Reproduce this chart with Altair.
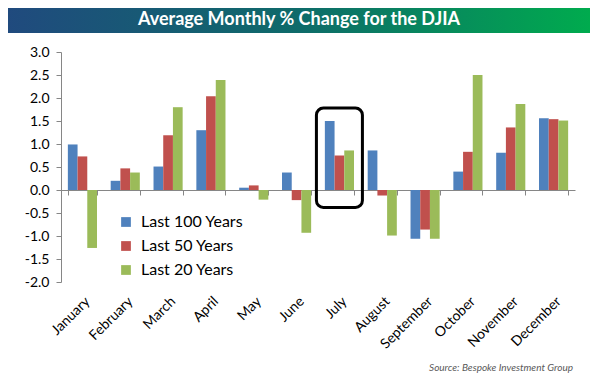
import altair as alt
import pandas as pd

months = ["January", "February", "March", "April", "May", "June", "July",
          "August", "September", "October", "November", "December"]
series_names = ["Last 100 Years", "Last 50 Years", "Last 20 Years"]
last_100 = [0.99, 0.20, 0.51, 1.30, 0.05, 0.38, 1.50, 0.86, -1.06, 0.40, 0.81, 1.56]
last_50 = [0.73, 0.47, 1.19, 2.04, 0.10, -0.22, 0.75, -0.12, -0.86, 0.83, 1.36, 1.54]
last_20 = [-1.26, 0.38, 1.80, 2.39, -0.21, -0.93, 0.86, -0.99, -1.06, 2.50, 1.87, 1.51]
colors = ["#4F81BD", "#C0504D", "#9BBB59"]
y_ticks = [-2.0, -1.5, -1.0, -0.5, 0.0, 0.5, 1.0, 1.5, 2.0, 2.5, 3.0]
highlight_month = ["July"]
highlight_top = [1.78]
highlight_bottom = [-0.38]
title_text = ["Average Monthly % Change for the DJIA"]
source_text = ["Source: Bespoke Investment Group"]

rows = []
for i, m in enumerate(months):
    for s, vals in zip(series_names, [last_100, last_50, last_20]):
        rows.append({"month": m, "series": s, "value": vals[i]})
df = pd.DataFrame(rows)

x_scale = alt.Scale(domain=months, paddingInner=0.32, paddingOuter=0.16)
y_scale = alt.Scale(domain=[-2, 3], nice=False, zero=False)

x_axis = alt.Axis(title=None, labelAngle=-45, offset=-92, tickBand="extent",
                  labelPadding=99, domainColor="#868686", tickColor="#868686",
                  tickSize=5, labelFont="Lato", labelFontSize=14,
                  labelColor="black", labelOverlap=False)
y_axis = alt.Axis(title=None, values=y_ticks, format=".1f",
                  labelExpr="replace(datum.label, '\u2212', '-')",
                  domainColor="#868686", tickColor="#868686", tickSize=5,
                  labelPadding=7, labelFont="Lato", labelFontSize=14,
                  labelColor="black", labelOverlap=False)

bars = alt.Chart(df).mark_bar().encode(
    x=alt.X("month:N", scale=x_scale, sort=months, axis=x_axis),
    xOffset=alt.XOffset("series:N", sort=series_names,
                        scale=alt.Scale(domain=series_names, paddingInner=0, paddingOuter=0)),
    y=alt.Y("value:Q", scale=y_scale, axis=y_axis),
    color=alt.Color("series:N", scale=alt.Scale(domain=series_names, range=colors),
                    legend=alt.Legend(title=None, orient="none", legendX=57, legendY=162,
                                      symbolType="square", symbolSize=95,
                                      labelFontSize=16, labelFont="Lato",
                                      rowPadding=8, labelOffset=7, padding=0,
                                      symbolStrokeWidth=0, labelColor="black")),
)

box_df = pd.DataFrame({"month": highlight_month, "top": highlight_top,
                       "bottom": highlight_bottom})
box = alt.Chart(box_df).mark_bar(filled=False, stroke="black", strokeWidth=3,
                                 cornerRadius=7, width=46).encode(
    x=alt.X("month:N", scale=x_scale, sort=months, axis=x_axis),
    y=alt.Y("top:Q", scale=y_scale, axis=y_axis),
    y2="bottom:Q",
)

tdf = pd.DataFrame({"t": title_text})
gradient = alt.LinearGradient(
    gradient="linear",
    stops=[alt.GradientStop(color="#204A7E", offset=0),
           alt.GradientStop(color="#0E6B6A", offset=0.5),
           alt.GradientStop(color="#00AB4E", offset=1)],
    x1=0, x2=1, y1=0, y2=0,
)
banner = alt.Chart(tdf).mark_rect(color=gradient).encode(
    x=alt.value(-54), x2=alt.value(529), y=alt.value(-45), y2=alt.value(-19)
)
title = alt.Chart(tdf).mark_text(font="Lato", fontSize=18, fontWeight="bold",
                                 color="white", baseline="middle").encode(
    x=alt.value(238), y=alt.value(-32), text="t:N"
)
sdf = pd.DataFrame({"s": source_text})
source = alt.Chart(sdf).mark_text(font="Lato", fontSize=10, fontStyle="italic",
                                  color="#595959", align="right",
                                  baseline="middle").encode(
    x=alt.value(512), y=alt.value(316), text="s:N"
)

chart = alt.layer(bars, box, banner, title, source).properties(
    width=514, height=230,
    padding={"left": 53, "top": 44, "right": 17, "bottom": 96},
    autosize=alt.AutoSizeParams(type="none"),
).configure_view(stroke=None).configure_axis(grid=False)

chart.save("out.html", embed_options={"renderer": "svg", "actions": False})
